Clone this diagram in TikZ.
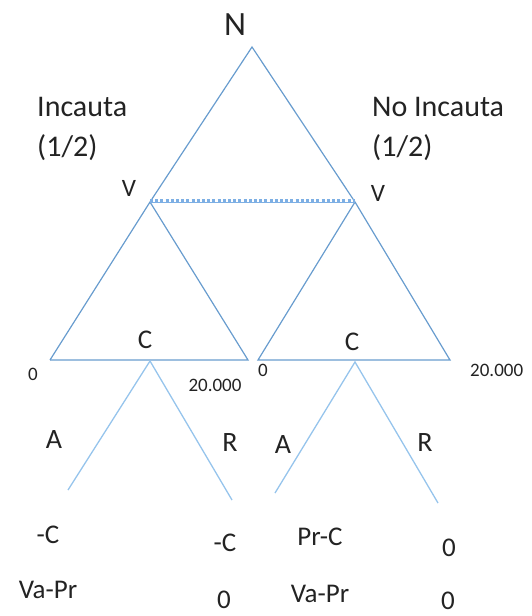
\documentclass[tikz,border=0pt]{standalone}
\usepackage{fontspec}
\setmainfont{Carlito}
\begin{document}
\begin{tikzpicture}[x=1pt,y=-1pt,
  edge/.style={draw=blue1,line width=1.2pt},
  branch/.style={draw=blue2,line width=1.3pt},
  lbl/.style={text=txt,inner sep=0pt,font=\fontsize{25}{30}\selectfont},
  ab/.style={lbl,font=\fontsize{28}{33}\selectfont},
  big/.style={lbl,font=\fontsize{30}{36}\selectfont},
  small/.style={lbl,font=\fontsize{19}{23}\selectfont},
  pay/.style={lbl,font=\fontsize{27}{32}\selectfont}]
\definecolor{blue1}{RGB}{104,156,206}
\definecolor{blue2}{RGB}{150,196,236}
\definecolor{dotc}{RGB}{125,175,228}
\definecolor{txt}{RGB}{35,35,35}
\useasboundingbox (0,0) rectangle (532,616);
% vertices
\coordinate (n) at (252,47);
\coordinate (v1) at (150,202);
\coordinate (v2) at (355,202);
\coordinate (l1) at (50,360);
\coordinate (r1) at (248,360);
\coordinate (l2) at (258,360);
\coordinate (r2) at (450,360);
\coordinate (c1) at (150,361);
\coordinate (c2) at (355,362);
\coordinate (a1) at (68,490);
\coordinate (b1) at (232,500);
\coordinate (a2) at (275,493);
\coordinate (b2) at (438,503);
% tree
\draw[edge] (l1) -- (v1) -- (n) -- (v2) -- (r2) -- (l2) -- (v2);
\draw[edge] (v1) -- (r1) -- (l1);
\draw[dotc,line width=1pt] (v1) -- (v2);
\draw[dotc,line width=3pt,dash pattern=on 3pt off 2.2pt] ([yshift=2pt]v1) -- ([yshift=2pt]v2);
\draw[branch] (a1) -- (c1) -- (b1);
\draw[branch] (a2) -- (c2) -- (b2);
% labels
\node[lbl,font=\fontsize{34}{40}\selectfont] (tN) at (235,25) {N};
\node[big,anchor=west] (inc) at (37,107) {Incauta};
\node[big,anchor=west] (p1) at (37,148) {(1/2)};
\node[big,anchor=west] (ninc) at (372,107) {No Incauta};
\node[big,anchor=west] (p2) at (372,148) {(1/2)};
\node[lbl] (tV1) at (129,188) {V};
\node[lbl] (tV2) at (378,193) {V};
\node[lbl,font=\fontsize{27}{32}\selectfont] (tC1) at (145,340) {C};
\node[lbl,font=\fontsize{27}{32}\selectfont] (tC2) at (352,342) {C};
\node[small] (z1) at (33,374) {0};
\node[small] (w1) at (215,385) {20.000};
\node[small] (z2) at (263,370) {0};
\node[small,anchor=west] (w2) at (470,370) {20.000};
\node[ab] (tA1) at (54,440) {A};
\node[ab] (tR1) at (230,443) {R};
\node[ab] (tA2) at (283,445) {A};
\node[ab] (tR2) at (425,443) {R};
\node[pay] (q1) at (48,535) {-C};
\node[pay] (q2) at (225,543) {-C};
\node[pay] (q3) at (320,537) {Pr-C};
\node[pay] (q4) at (449,548) {0};
\node[pay] (s1) at (48,590) {Va-Pr};
\node[pay] (s2) at (224,600) {0};
\node[pay] (s3) at (320,594) {Va-Pr};
\node[pay] (s4) at (448,601) {0};
\end{tikzpicture}
\end{document}
